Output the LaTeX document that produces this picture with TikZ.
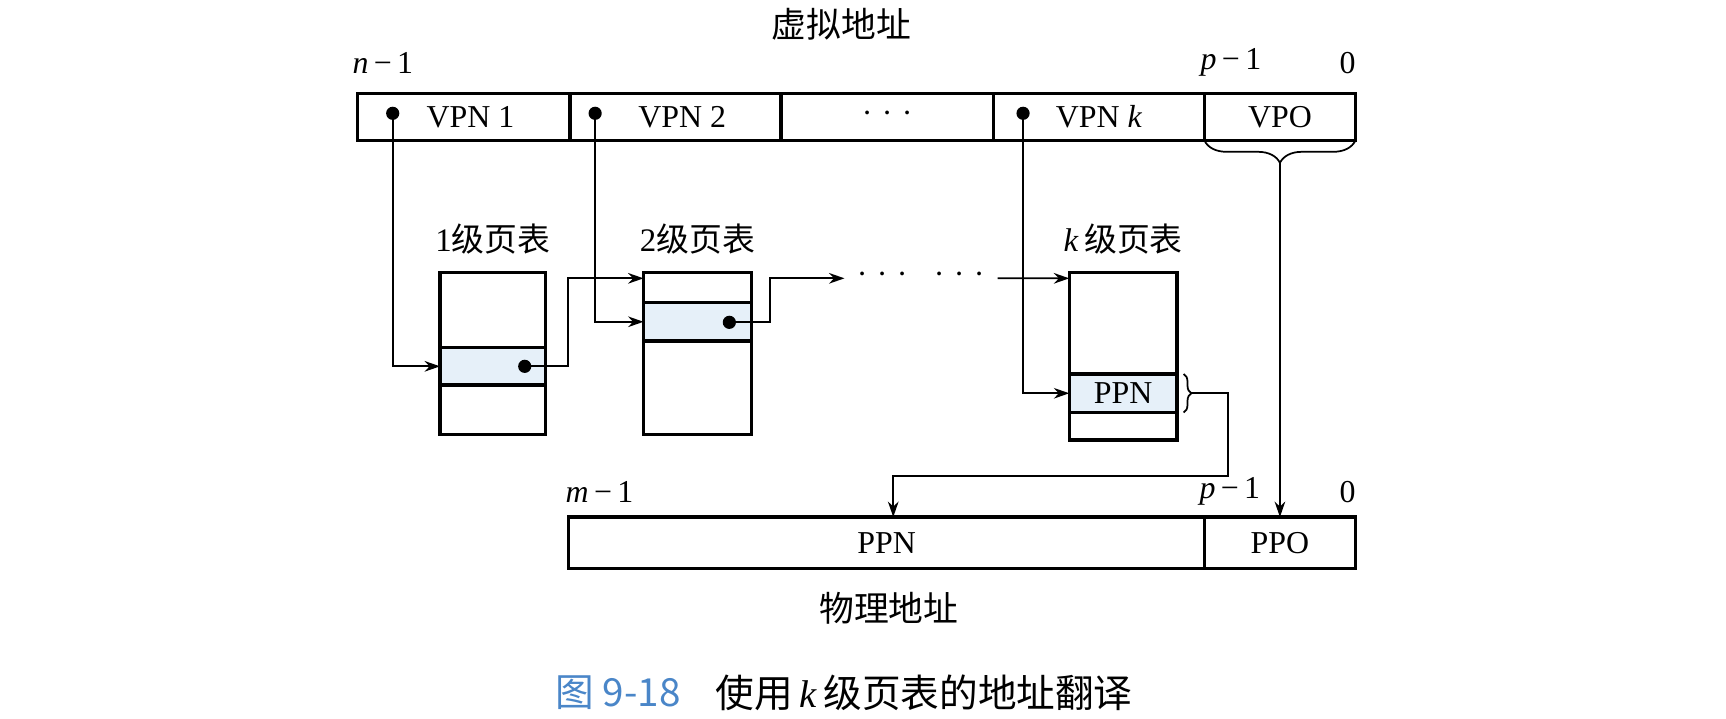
\documentclass[tikz,border=0pt]{standalone}
\usepackage{fontspec}
\setmainfont{Liberation Serif}
\newfontfamily\cjk{Noto Sans CJK SC}
\usetikzlibrary{arrows.meta,decorations.pathreplacing,positioning}
\definecolor{rowblue}{HTML}{E6F0F9}
\definecolor{capblue}{HTML}{4A86C8}
\newcommand{\dotrow}{·\hspace{0.17cm}·\hspace{0.17cm}·}
\tikzset{
    cell/.style={rectangle,draw,line width=1.7pt,inner sep=0pt,outer sep=0pt},
    tblrow/.style={rectangle,draw,fill=rowblue,line width=1.7pt,inner sep=0pt,outer sep=0pt},
    pin/.style={circle,fill,inner sep=0pt,minimum size=0.24cm},
    link/.style={-{Stealth[length=8pt,width=5.5pt]},line width=0.9pt},
    bracket/.style={decorate,line width=0.9pt},
    cjklabel/.style={font=\fontsize{18pt}{20pt}\selectfont\cjk},
}

\begin{document}
\begin{tikzpicture}[x=0.02cm,y=-0.02cm,font=\fontsize{16.5pt}{20pt}\selectfont]
\useasboundingbox (0,0) rectangle (1569,653);

% virtual address
\node[cjklabel] (vtitle) at (765,22) {虚拟地址};
\node[cell, minimum width=3.86cm, minimum height=0.86cm] (v1) at (421.5,106.5) {\hspace{0.25cm}VPN 1};
\node[cell, minimum width=3.84cm, minimum height=0.86cm] (v2) at (614,106.5) {\hspace{0.25cm}VPN 2};
\node[cell, minimum width=3.86cm, minimum height=0.86cm] (v3) at (806.5,106.5) {\dotrow};
\node[cell, minimum width=3.84cm, minimum height=0.86cm] (vk) at (999,106.5) {VPN \textit{k}};
\node[cell, minimum width=2.74cm, minimum height=0.86cm] (vpo) at (1163.5,106.5) {VPO};
\node (nhi) at (348,57) {\textit{n}\,−\,1};
\node (vplo) at (1119,57) {\textit{p}\,−\,1};
\node (vzero) at (1225,57) {0};
\node[pin] (d1) at (357,103) {};
\node[pin] (d2) at (541,103) {};
\node[pin] (dk) at (930,103) {};

% page tables
\node[cell, minimum width=1.92cm, minimum height=2.94cm] (t1) at (448,321.5) {};
\node[tblrow, minimum width=1.92cm, minimum height=0.68cm] (t1row) at (448,333) {};
\node[pin] (e1) at (477,333) {};
\node[cell, minimum width=1.96cm, minimum height=2.94cm] (t2) at (634,321.5) {};
\node[tblrow, minimum width=1.96cm, minimum height=0.7cm] (t2row) at (634,292.5) {};
\node[pin] (e2) at (663,293) {};
\node[cell, minimum width=1.96cm, minimum height=3.04cm] (tk) at (1021,324) {};
\node[tblrow, minimum width=1.96cm, minimum height=0.7cm] (tkrow) at (1021,357.5) {PPN};
\node[cjklabel, font=\fontsize{17pt}{20pt}\selectfont, above=0.22cm of t1] (t1lab) {1{\cjk 级页表}};
\node[cjklabel, font=\fontsize{17pt}{20pt}\selectfont, above=0.22cm of t2] (t2lab) {2{\cjk 级页表}};
\node[cjklabel, font=\fontsize{17pt}{20pt}\selectfont, above=0.22cm of tk] (tklab) {\textit{k}\,{\cjk 级页表}};
\node[inner sep=0pt] (gap1) at (802,253) {\dotrow};
\node[inner sep=0pt] (gap2) at (872,253) {\dotrow};

\draw[link] (d1.center) |- (t1row.west);
\draw[link] (e1.center) -- ++(39,0) |- ([yshift=-0.1cm]t2.north west);
\draw[link] (d2.center) |- (t2row.west);
\draw[link] (e2.center) -- ++(37,0) |- ([xshift=-0.22cm]gap1.west);
\draw[link] ([xshift=0.23cm]gap2.east) -- ([yshift=-0.1cm]tk.north west);
\draw[link] (dk.center) |- (tkrow.west);

% physical address
\node[cell, minimum width=11.56cm, minimum height=0.94cm] (ppn) at (806,493.5) {PPN};
\node[cell, minimum width=2.74cm, minimum height=0.94cm] (ppo) at (1163.5,493.5) {PPO};
\node (mhi) at (545,447) {\textit{m}\,−\,1};
\node (pplo) at (1118,447) {\textit{p}\,−\,1};
\node (pzero) at (1225,447) {0};
\node[cjklabel] (ptitle) at (808,553) {物理地址};

% braces
\draw[bracket, decoration={brace,amplitude=0.4cm}] (vpo.south east) -- (vpo.south west);
\coordinate (bv) at ([yshift=-0.4cm]vpo.south);
\draw[link] (bv) -- (ppo.north);
\draw[bracket, decoration={brace,amplitude=0.14cm}] ([xshift=0.12cm]tkrow.north east) -- ([xshift=0.12cm]tkrow.south east);
\coordinate (bk) at ([xshift=0.26cm]tkrow.east);
\draw[link] (bk) -- ++(33,0) -- ++(0,75) -| ([xshift=0.12cm]ppn.north);

% caption
\node[font=\fontsize{20pt}{22pt}\selectfont\cjk, text=capblue] (fignum) at (562,630) {图 9-18};
\node[font=\fontsize{20pt}{22pt}\selectfont] (figcap) at (840,630) {{\cjk 使用}\,\textit{k}\,{\cjk 级页表的地址翻译}};
\end{tikzpicture}
\end{document}
